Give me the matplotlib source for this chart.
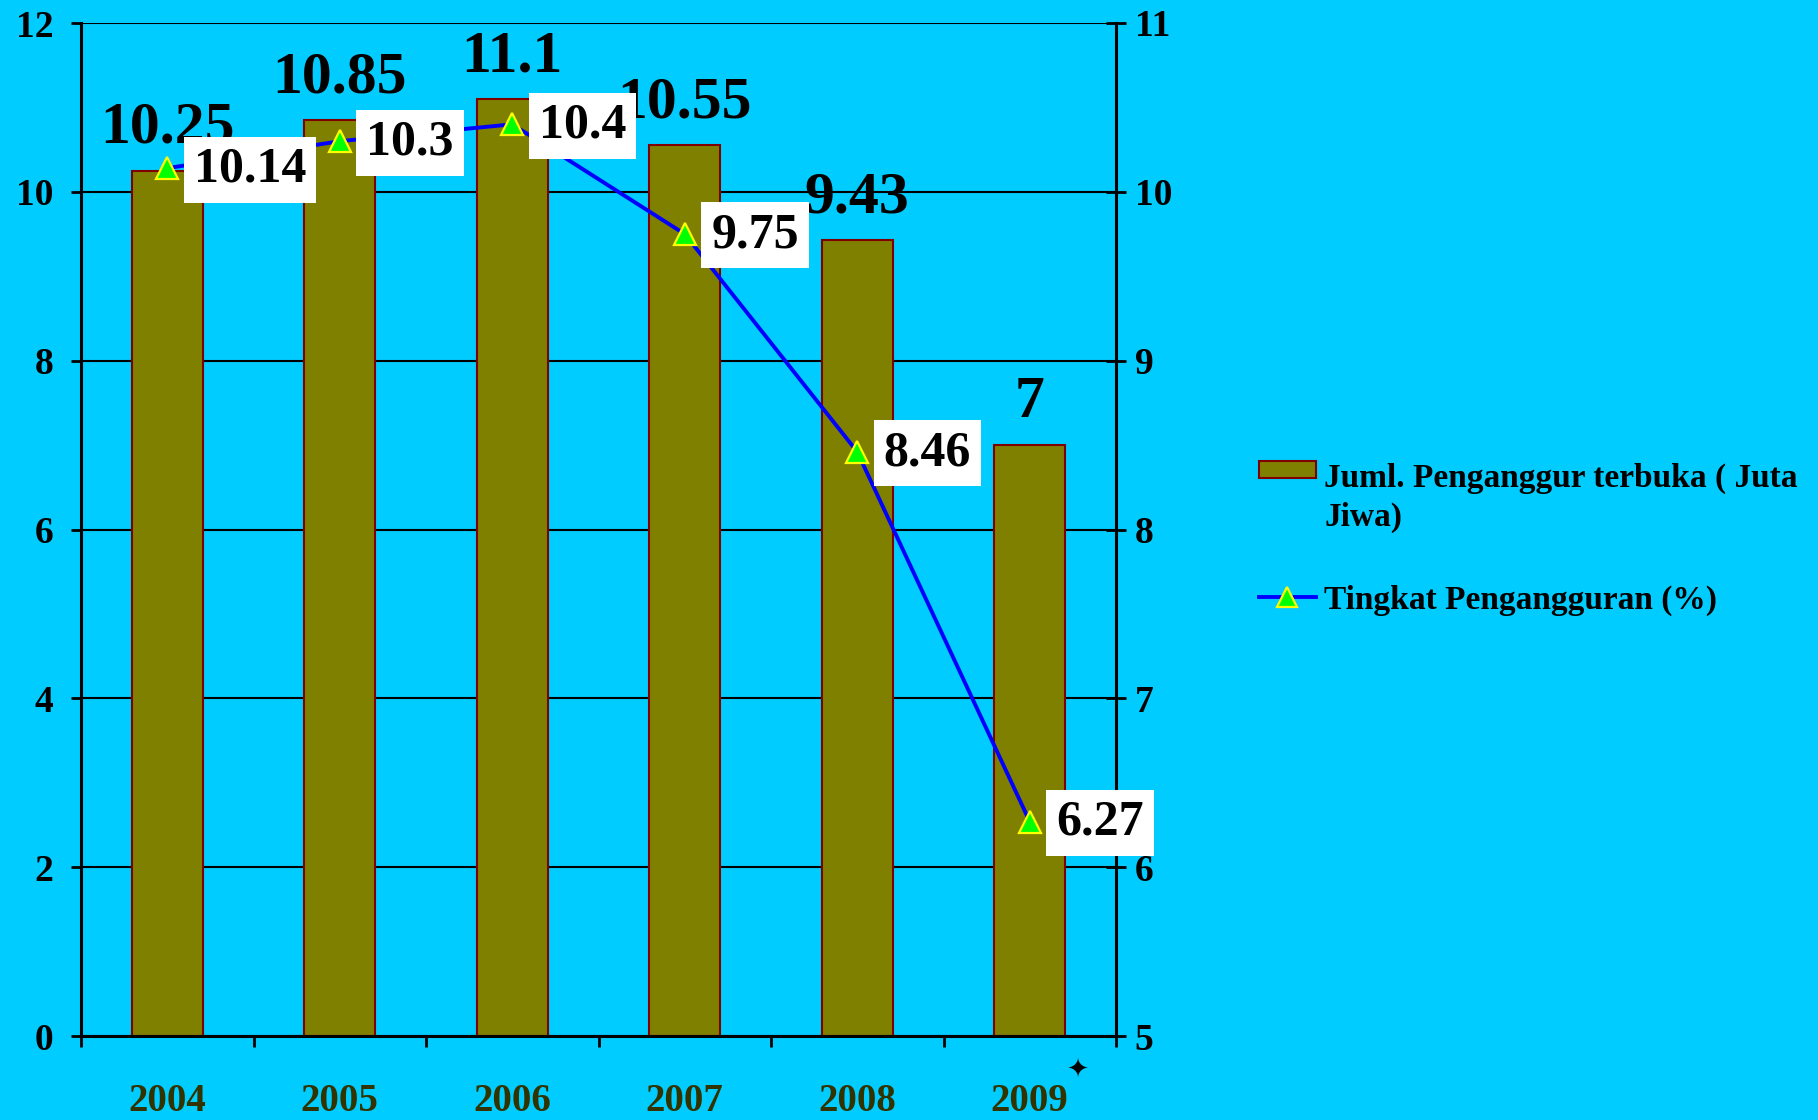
import matplotlib
matplotlib.use("Agg")
import matplotlib.pyplot as plt
import matplotlib.patches as mpatches
import matplotlib.lines as mlines
from matplotlib.legend_handler import HandlerPatch
import numpy as np

####################
### Data & style ###
####################

years    = ['2004', '2005', '2006', '2007', '2008', '2009']
jumlah   = [10.25, 10.85, 11.1, 10.55, 9.43, 7.0]      # Juml. Penganggur terbuka (juta jiwa)
tingkat  = [10.14, 10.3, 10.4, 9.75, 8.46, 6.27]      # Tingkat Pengangguran (%)

label_bar  = 'Juml. Penganggur terbuka ( Juta\nJiwa)'
label_line = 'Tingkat Pengangguran (%)'

left_ticks  = [0, 2, 4, 6, 8, 10, 12]
right_ticks = [5, 6, 7, 8, 9, 10, 11]

bg_color   = '#00CCFF'
bar_color  = '#808000'
bar_edge   = '#800000'
line_color = '#0000FF'
year_color = '#333300'

serif = ['Liberation Serif', 'DejaVu Serif']
plt.rcParams['font.family'] = serif
plt.rcParams['font.weight'] = 'bold'

####################
### Build figure ###
####################

fig = plt.figure(figsize=(18.18, 11.2), dpi=100, facecolor=bg_color)
ax = fig.add_axes([81 / 1818, 1 - 1036 / 1120, 1035 / 1818, 1013 / 1120])
ax.set_facecolor(bg_color)

x = np.arange(len(years))

# Bars (left axis)
bars = ax.bar(x, jumlah, width=0.41, color=bar_color, edgecolor=bar_edge, linewidth=1.5, zorder=2)
for xi, v in zip(x, jumlah):
    ax.annotate(f'{v:g}', (xi, v), xytext=(0, 20), textcoords='offset points',
                ha='center', va='baseline', fontsize=43, fontweight='bold', color='black', zorder=3)

ax.set_xlim(-0.5, len(years) - 0.5)
ax.set_ylim(0, 12)
ax.set_yticks(left_ticks)
ax.yaxis.grid(True, color='black', linewidth=1.5)
ax.set_axisbelow(True)

# Category boundaries as major ticks, year labels on minor ticks
ax.set_xticks(np.arange(-0.5, len(years), 1.0))
ax.set_xticklabels([])
ax.set_xticks(x, minor=True)
ax.set_xticklabels(years, minor=True)
ax.tick_params(axis='x', which='major', direction='out', length=8, width=2)
ax.tick_params(axis='x', which='minor', length=0, pad=34, labelsize=28, labelcolor=year_color)
ax.tick_params(axis='y', direction='out', length=7, width=2, pad=13, labelsize=27)

for s in ['left', 'bottom']:
    ax.spines[s].set_linewidth(2.2)
ax.spines['top'].set_visible(False)
ax.spines['right'].set_visible(False)

# Line (right axis)
ax2 = ax.twinx()
ax2.plot(x, tingkat, color=line_color, linewidth=2.8, marker='^', markersize=16,
         markerfacecolor='#00FF00', markeredgecolor='#FFFF00', markeredgewidth=1.6, zorder=4)
for xi, v in zip(x, tingkat):
    ax2.annotate(f'{v:g}', (xi, v), xytext=(19, -1), textcoords='offset points',
                 ha='left', va='center', fontsize=36, fontweight='bold', color='black', zorder=5,
                 bbox=dict(boxstyle='square,pad=0.2', facecolor='white', edgecolor='none'))
ax2.set_ylim(5, 11)
ax2.set_yticks(right_ticks)
ax2.tick_params(axis='y', direction='inout', length=15, width=2, pad=6, labelsize=27)
ax2.spines['right'].set_linewidth(2.2)
for s in ['left', 'top', 'bottom']:
    ax2.spines[s].set_visible(False)

# Little star mark next to 2009
fig.text(1078 / 1818, 1 - 1070 / 1120, '\u2726', fontsize=19, color='black',
         family='DejaVu Sans', ha='center', va='center')

##############
### Legend ###
##############

# Bar swatch sits next to the first line of the two-line label
def first_line_patch(legend, orig_handle, xdescent, ydescent, width, height, fontsize):
    top = -ydescent + height + 0.77 * fontsize
    h = 0.52 * fontsize
    return mpatches.Rectangle((-xdescent, top - h), width, h)

bar_handle  = mpatches.Patch(facecolor=bar_color, edgecolor=bar_edge, linewidth=1.5)
line_handle = mlines.Line2D([], [], color=line_color, linewidth=2.8, marker='^', markersize=14,
                            markerfacecolor='#00FF00', markeredgecolor='#FFFF00', markeredgewidth=1.6)
leg = fig.legend([bar_handle, line_handle], [label_bar, label_line],
                 loc='upper left', bbox_to_anchor=(1259 / 1818, 1 - 463 / 1120),
                 frameon=False, prop={'family': serif, 'weight': 'bold', 'size': 24},
                 handlelength=1.7, handleheight=0.7, handletextpad=0.25,
                 labelspacing=1.55, borderpad=0, borderaxespad=0,
                 handler_map={mpatches.Patch: HandlerPatch(patch_func=first_line_patch)})
for t in leg.get_texts():
    t.set_linespacing(1.3)

fig.savefig('out.png', dpi=100, facecolor=bg_color)
